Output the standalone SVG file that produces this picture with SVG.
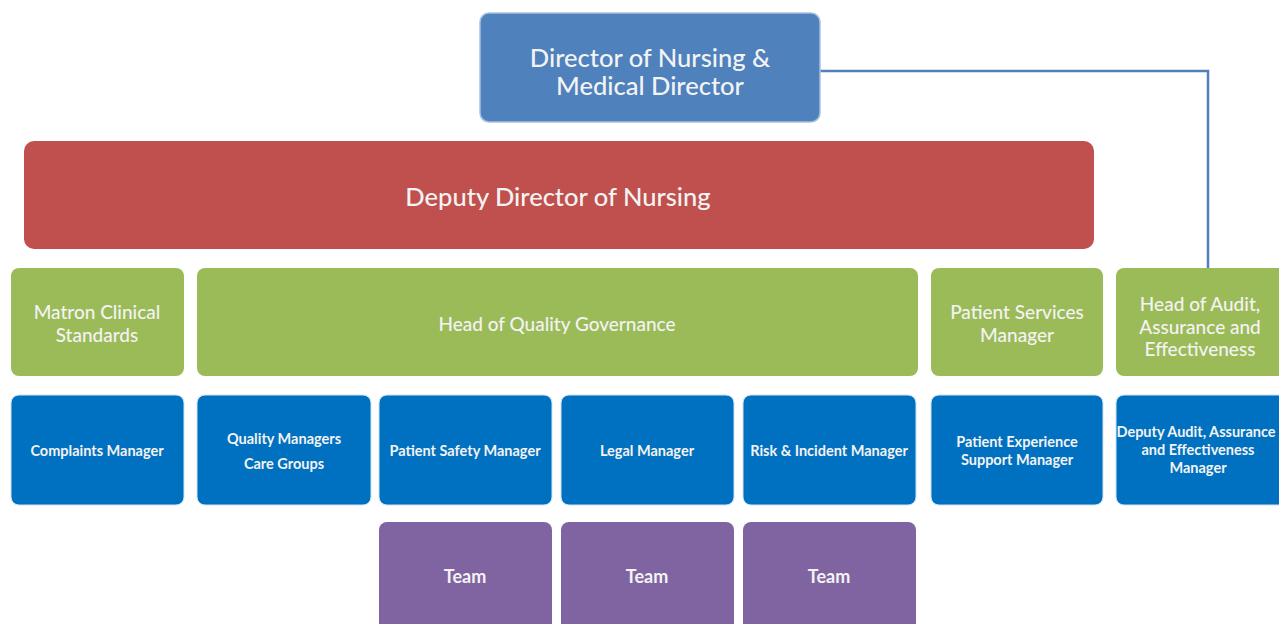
<svg xmlns="http://www.w3.org/2000/svg" width="1279" height="624" viewBox="0 0 1279 624">
<style>
text{font-family:Lato,"Open Sans","Liberation Sans",sans-serif;fill:#f3f3f3;text-anchor:middle;dominant-baseline:central}
.top{fill:#4f81bd;stroke:#a9c0e0;stroke-width:1.5}
.red{fill:#c0504d}
.green{fill:#9bbb59}
.blue{fill:#0070c0;stroke:#cfe3f5;stroke-width:1}
.purple{fill:#8064a2}
.t1{font-size:25.5px;font-weight:500}
.t2{font-size:19px;font-weight:500}
.t3{font-size:14.5px;font-weight:bold}
.t4{font-size:18px;font-weight:bold}
.conn{fill:none;stroke:#4f81bd;stroke-width:2.5}
</style>
<rect width="1279" height="624" fill="#ffffff"/>
<g id="connectors">
<path class="conn" d="M820,71 H1208 V268"/>
</g>
<g id="director"><rect class="top" x="480" y="13" width="340" height="109" rx="9"/><text class="t1" x="650" y="57">Director of Nursing &amp;</text><text class="t1" x="650" y="85">Medical Director</text></g>
<g id="deputy"><rect class="red" x="24" y="141" width="1070" height="108" rx="10"/><text class="t1" x="558" y="196">Deputy Director of Nursing</text></g>
<g id="matron"><rect class="green" x="11" y="268" width="173" height="108" rx="8"/><text class="t2" x="97" y="311">Matron Clinical</text><text class="t2" x="97" y="334">Standards</text></g>
<g id="hqg"><rect class="green" x="197" y="268" width="721" height="108" rx="8"/><text class="t2" x="557" y="323">Head of Quality Governance</text></g>
<g id="psm"><rect class="green" x="931" y="268" width="172" height="108" rx="8"/><text class="t2" x="1017" y="311">Patient Services</text><text class="t2" x="1017" y="334">Manager</text></g>
<g id="hoa"><rect class="green" x="1116" y="268" width="172" height="108" rx="8"/><text class="t2" x="1200" y="303">Head of Audit,</text><text class="t2" x="1200" y="326">Assurance and</text><text class="t2" x="1200" y="348">Effectiveness</text></g>
<g id="complaints"><rect class="blue" x="11" y="395" width="173" height="110" rx="8"/><text class="t3" x="97" y="450">Complaints Manager</text></g>
<g id="qm"><rect class="blue" x="197" y="395" width="174" height="110" rx="8"/><text class="t3" x="284" y="438">Quality Managers</text><text class="t3" x="284" y="463">Care Groups</text></g>
<g id="psafety"><rect class="blue" x="379" y="395" width="173" height="110" rx="8"/><text class="t3" x="465" y="450">Patient Safety Manager</text></g>
<g id="legal"><rect class="blue" x="561" y="395" width="173" height="110" rx="8"/><text class="t3" x="647" y="450">Legal Manager</text></g>
<g id="risk"><rect class="blue" x="743" y="395" width="173" height="110" rx="8"/><text class="t3" x="829" y="450">Risk &amp; Incident Manager</text></g>
<g id="pexp"><rect class="blue" x="931" y="395" width="172" height="110" rx="8"/><text class="t3" x="1017" y="441">Patient Experience</text><text class="t3" x="1017" y="459">Support Manager</text></g>
<g id="deputyaudit"><rect class="blue" x="1116" y="395" width="172" height="110" rx="8"/><text class="t3" x="1196" y="431">Deputy Audit, Assurance</text><text class="t3" x="1198" y="449">and Effectiveness</text><text class="t3" x="1198" y="467">Manager</text></g>
<g id="team1"><rect class="purple" x="379" y="522" width="173" height="112" rx="8"/><text class="t4" x="465" y="576">Team</text></g>
<g id="team2"><rect class="purple" x="561" y="522" width="173" height="112" rx="8"/><text class="t4" x="647" y="576">Team</text></g>
<g id="team3"><rect class="purple" x="743" y="522" width="173" height="112" rx="8"/><text class="t4" x="829" y="576">Team</text></g>
</svg>
